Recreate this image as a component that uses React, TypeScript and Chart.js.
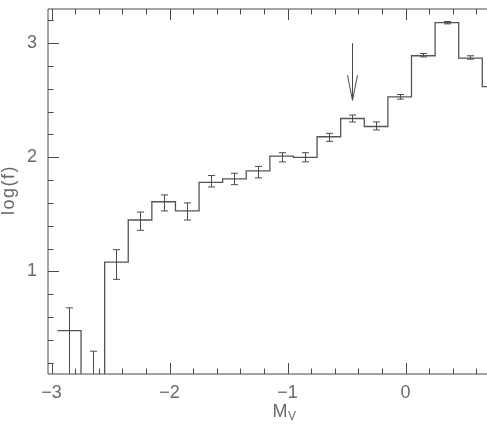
import React, { useEffect, useRef } from "react";
import { Chart, registerables } from "chart.js";

Chart.register(...registerables);

// Bin centres (M_V) and log(f) values
const binCenters = [-2.85, -2.65, -2.45, -2.25, -2.05, -1.85, -1.65, -1.45, -1.25, -1.05, -0.85, -0.65, -0.45, -0.25, -0.05, 0.15, 0.35, 0.55, 0.75];
const logF = [0.48, 0.0, 1.08, 1.45, 1.61, 1.53, 1.78, 1.81, 1.88, 2.01, 2.0, 2.18, 2.34, 2.27, 2.53, 2.89, 3.18, 2.87, 2.62];
const errLow = [0.1, -1.0, 0.93, 1.36, 1.53, 1.45, 1.74, 1.76, 1.82, 1.96, 1.96, 2.14, 2.31, 2.24, 2.51, 2.88, 3.17, 2.86, 2.6];
const errHigh = [0.68, 0.3, 1.19, 1.52, 1.67, 1.6, 1.84, 1.86, 1.92, 2.04, 2.04, 2.21, 2.37, 2.31, 2.55, 2.91, 3.19, 2.89, 2.64];
const binWidth = 0.2;

const xTickValues = [-3, -2, -1, 0];
const yTickValues = [1, 2, 3];
const minorStep = 0.2;

const arrowX = -0.45;
const arrowTop = 3.0;
const arrowTip = 2.5;

const xMin = -3.03;
const xMax = 0.8;
const yMin = 0.1;
const yMax = 3.3;

const LINE = "#4a4a4a";
const TEXT = "#6a6a6a";
const FONT = "Liberation Sans";

const fmt = (v: number) => (v < 0 ? "\u2212" + Math.abs(v) : String(v));

const decorPlugin = {
  id: "decor",
  afterDatasetsDraw(chart: any) {
    const { ctx, chartArea: a, scales } = chart;
    const xs = scales.x;
    const ys = scales.y;
    ctx.save();
    ctx.strokeStyle = LINE;
    ctx.lineWidth = 1;

    // frame
    ctx.beginPath();
    ctx.moveTo(a.left, a.bottom);
    ctx.lineTo(a.left, a.top);
    ctx.lineTo(a.right, a.top);
    ctx.lineTo(a.right, a.bottom);
    ctx.lineTo(a.left, a.bottom);
    ctx.stroke();

    // ticks (inward)
    ctx.beginPath();
    const kx0 = Math.ceil(xMin / minorStep - 1e-6);
    const kx1 = Math.floor(xMax / minorStep + 1e-6);
    for (let k = kx0; k <= kx1; k++) {
      const v = k * minorStep;
      const major = Math.abs(v - Math.round(v)) < 1e-6;
      const len = major ? 11 : 5.5;
      const px = Math.round(xs.getPixelForValue(v)) + 0.5;
      ctx.moveTo(px, a.bottom);
      ctx.lineTo(px, a.bottom - len);
      ctx.moveTo(px, a.top);
      ctx.lineTo(px, a.top + len);
    }
    const ky0 = Math.ceil(yMin / minorStep - 1e-6);
    const ky1 = Math.floor(yMax / minorStep + 1e-6);
    for (let k = ky0; k <= ky1; k++) {
      const v = k * minorStep;
      const major = Math.abs(v - Math.round(v)) < 1e-6;
      const len = major ? 11 : 5.5;
      const py = Math.round(ys.getPixelForValue(v)) + 0.5;
      ctx.moveTo(a.left, py);
      ctx.lineTo(a.left + len, py);
      ctx.moveTo(a.right, py);
      ctx.lineTo(a.right - len, py);
    }
    ctx.stroke();

    // error bars
    ctx.save();
    ctx.beginPath();
    ctx.rect(a.left, a.top, a.right - a.left, a.bottom - a.top);
    ctx.clip();
    ctx.beginPath();
    for (let i = 0; i < binCenters.length; i++) {
      const px = Math.round(xs.getPixelForValue(binCenters[i])) + 0.5;
      const lo = Math.max(errLow[i], yMin);
      const pLo = ys.getPixelForValue(lo);
      const pHi = ys.getPixelForValue(errHigh[i]);
      ctx.moveTo(px, pLo);
      ctx.lineTo(px, pHi);
      ctx.moveTo(px - 3.5, pHi);
      ctx.lineTo(px + 3.5, pHi);
      if (errLow[i] > yMin) {
        ctx.moveTo(px - 3.5, pLo);
        ctx.lineTo(px + 3.5, pLo);
      }
    }
    ctx.stroke();
    ctx.restore();

    // arrow
    const ax = Math.round(xs.getPixelForValue(arrowX)) + 0.5;
    const aTop = ys.getPixelForValue(arrowTop);
    const aTip = ys.getPixelForValue(arrowTip);
    ctx.beginPath();
    ctx.moveTo(ax, aTop);
    ctx.lineTo(ax, aTip);
    ctx.moveTo(ax - 5, aTip - 25);
    ctx.lineTo(ax, aTip);
    ctx.lineTo(ax + 5, aTip - 25);
    ctx.stroke();

    // axis titles
    ctx.fillStyle = TEXT;
    ctx.textBaseline = "middle";
    ctx.textAlign = "left";
    ctx.font = `18px "${FONT}"`;
    const mW = ctx.measureText("M").width;
    const xTitleX = xs.getPixelForValue(-1) - 15;
    const xTitleY = 412;
    ctx.fillText("M", xTitleX, xTitleY);
    ctx.font = `12px "${FONT}"`;
    ctx.fillText("V", xTitleX + mW + 0.5, xTitleY + 5);

    ctx.save();
    ctx.translate(9, 190);
    ctx.rotate(-Math.PI / 2);
    ctx.textAlign = "center";
    ctx.font = `18px "${FONT}"`;
    (ctx as any).letterSpacing = "1.5px";
    ctx.fillText("log(f)", 0, 0);
    ctx.restore();

    ctx.restore();
  },
};

export default function App() {
  const ref = useRef<HTMLCanvasElement | null>(null);

  useEffect(() => {
    if (!ref.current) return;
    const steps = binCenters.map((c, i) => ({ x: c - binWidth / 2, y: logF[i] }));
    steps.push({
      x: binCenters[binCenters.length - 1] + binWidth / 2,
      y: logF[logF.length - 1],
    });

    const chart = new Chart(ref.current, {
      type: "line",
      data: {
        datasets: [
          {
            data: steps,
            stepped: "before",
            borderColor: "#555555",
            borderWidth: 1.3,
            pointRadius: 0,
            fill: false,
          } as any,
        ],
      },
      options: {
        animation: false,
        responsive: false,
        devicePixelRatio: 1,
        layout: { padding: { left: 0, top: 9, right: 10, bottom: 0 } },
        plugins: { legend: { display: false }, tooltip: { enabled: false } },
        scales: {
          x: {
            type: "linear",
            min: xMin,
            max: xMax,
            grid: { display: false, drawTicks: false },
            border: { display: false },
            afterBuildTicks: (s: any) => {
              s.ticks = xTickValues.map((v) => ({ value: v }));
            },
            afterFit: (s: any) => {
              s.height = 55;
              s.paddingLeft = 0;
              s.paddingRight = 0;
            },
            ticks: {
              color: TEXT,
              font: { family: FONT, size: 18 },
              padding: 8,
              maxRotation: 0,
              callback: (v: any) => fmt(Number(v)),
            },
          },
          y: {
            type: "linear",
            min: yMin,
            max: yMax,
            grid: { display: false, drawTicks: false },
            border: { display: false },
            afterBuildTicks: (s: any) => {
              s.ticks = yTickValues.map((v) => ({ value: v }));
            },
            afterFit: (s: any) => {
              s.width = 48;
              s.paddingTop = 0;
              s.paddingBottom = 0;
            },
            ticks: {
              color: TEXT,
              font: { family: FONT, size: 18 },
              padding: 11,
              callback: (v: any) => fmt(Number(v)),
            },
          },
        },
      },
      plugins: [decorPlugin],
    });
    return () => chart.destroy();
  }, []);

  return (
    <div
      style={{
        position: "fixed",
        left: 0,
        top: 0,
        width: 487,
        height: 429,
        overflow: "hidden",
        background: "#fff",
      }}
    >
      <canvas ref={ref} width={510} height={429} style={{ width: 510, height: 429, display: "block" }} />
    </div>
  );
}
